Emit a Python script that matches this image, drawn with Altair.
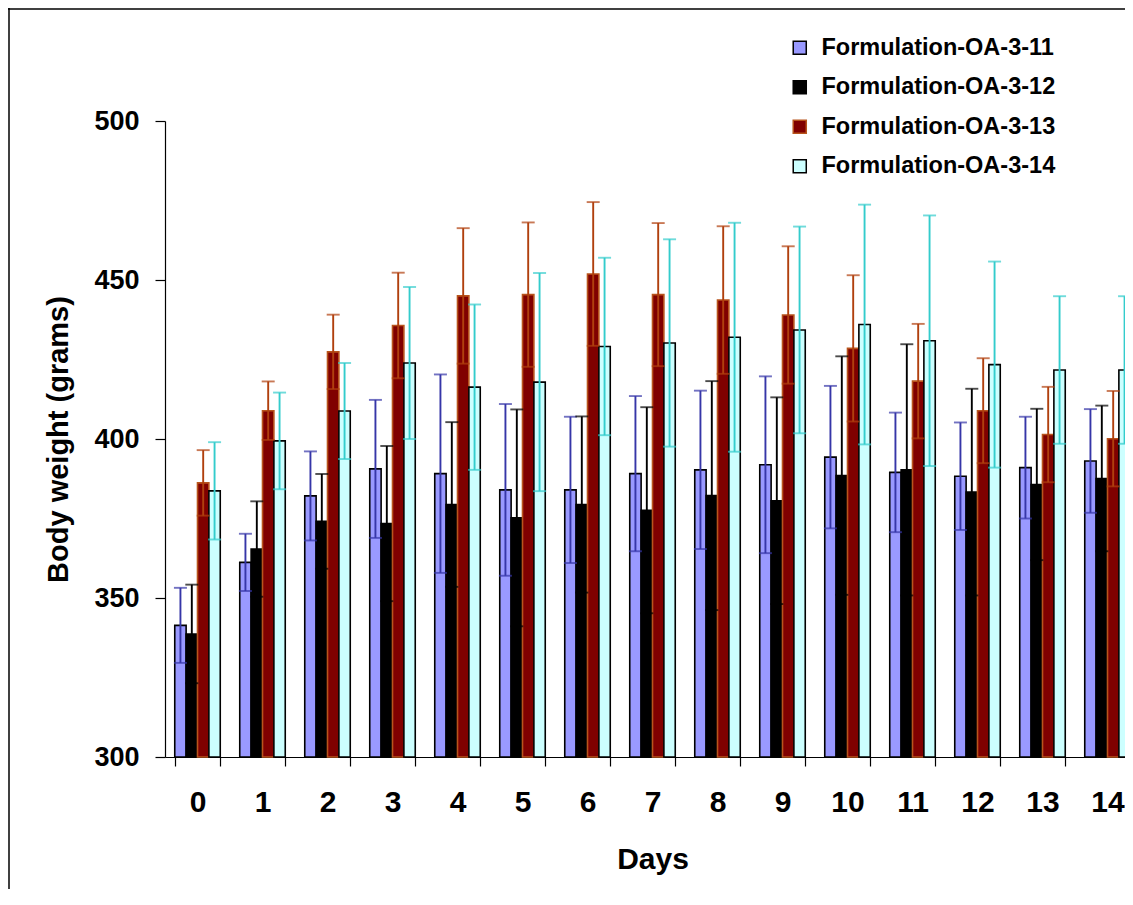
import altair as alt
import pandas as pd

days = list(range(15))
series_names = ["Formulation-OA-3-11", "Formulation-OA-3-12", "Formulation-OA-3-13", "Formulation-OA-3-14"]

oa11 = [341.4, 361.2, 382.1, 390.6, 389.1, 384.0, 384.0, 389.1, 390.3, 391.9, 394.3, 389.5, 388.3, 391.0, 393.1]
oa11_sd = [11.8, 9.0, 14.0, 21.7, 31.2, 27.0, 23.0, 24.4, 24.9, 27.8, 22.4, 18.8, 16.9, 16.0, 16.3]
oa12 = [338.7, 365.4, 374.1, 373.4, 379.4, 375.2, 379.4, 377.6, 382.2, 380.6, 388.5, 390.3, 383.3, 385.7, 387.6]
oa12_sd = [15.5, 15.0, 14.9, 24.4, 25.9, 34.1, 27.7, 32.4, 36.0, 32.5, 37.5, 39.5, 32.5, 23.8, 22.9]
oa13 = [386.2, 408.9, 427.4, 435.7, 445.0, 445.4, 451.9, 445.4, 443.7, 439.0, 428.5, 418.2, 408.9, 401.4, 400.1]
oa13_sd = [10.3, 9.2, 11.7, 16.6, 21.3, 22.7, 22.6, 22.5, 23.2, 21.6, 23.0, 18.0, 16.5, 15.0, 15.0]
oa14 = [383.7, 399.4, 408.8, 423.9, 416.3, 417.9, 429.1, 430.2, 432.0, 434.3, 436.0, 430.9, 423.4, 421.7, 421.7]
oa14_sd = [15.3, 15.2, 15.1, 23.9, 26.0, 34.3, 27.9, 32.6, 36.0, 32.5, 37.7, 39.4, 32.4, 23.2, 23.2]

fill_colors = ["#9999FF", "#000000", "#800000", "#CCFFFF"]
stroke_colors = ["#000000", "#000000", "#B8541C", "#000000"]
err_colors = ["#3636A8", "#000000", "#B0400E", "#33CCCC"]

rows = []
for name, means, sds in zip(series_names, [oa11, oa12, oa13, oa14], [oa11_sd, oa12_sd, oa13_sd, oa14_sd]):
    for d, m, s in zip(days, means, sds):
        rows.append({"Day": d, "Series": name, "Mean": m, "Lo": m - s, "Hi": m + s})
df = pd.DataFrame(rows)

FONT = "Liberation Sans"

x_enc = alt.X("Day:O", title="Days",
              scale=alt.Scale(paddingInner=0.3, paddingOuter=0.15, range=[0, 975]),
              axis=alt.Axis(labelAngle=0, tickBand="extent", tickSize=9, labelPadding=21,
                            labelFontSize=30, labelFont=FONT, labelFontWeight="bold", labelColor="black",
                            titleFontSize=30, titleFont=FONT, titleFontWeight="bold", titleColor="black",
                            titlePadding=27, domainColor="black", tickColor="black",
                            domainWidth=1.2, tickWidth=1.2))
xoff = alt.XOffset("Series:N", sort=series_names, scale=alt.Scale(paddingInner=0, paddingOuter=0))
y_scale = alt.Scale(domain=[300, 500], nice=False, zero=False)
y_axis = alt.Axis(values=[300, 350, 400, 450, 500], tickSize=10, labelPadding=16,
                  labelFontSize=27, labelFont=FONT, labelFontWeight="bold", labelColor="black",
                  title="Body weight (grams)", titleFontSize=29, titleFont=FONT,
                  titleFontWeight="bold", titleColor="black", titlePadding=20,
                  domainColor="black", tickColor="black", domainWidth=1.2, tickWidth=1.2, grid=False)

base = alt.Chart(df)

legend = alt.Legend(orient="none", legendX=623, legendY=-85, title=None,
                    labelFontSize=23.5, labelFont=FONT, labelFontWeight="bold", labelColor="black",
                    symbolType="square", symbolSize=170, symbolStrokeWidth=1.5, rowPadding=14.5,
                    labelOffset=10, labelLimit=400)

bars = base.mark_bar(strokeWidth=1.6).encode(
    x=x_enc,
    xOffset=xoff,
    y=alt.Y("Mean:Q", scale=y_scale, axis=y_axis),
    y2=alt.datum(300),
    fill=alt.Fill("Series:N", scale=alt.Scale(domain=series_names, range=fill_colors), legend=legend),
    stroke=alt.Stroke("Series:N", scale=alt.Scale(domain=series_names, range=stroke_colors), legend=legend),
)

err_layers = []
for name, col in zip(series_names, err_colors):
    sub = base.transform_filter(alt.datum.Series == name)
    err_layers.append(sub.mark_rule(strokeWidth=1.9, color=col).encode(
        x="Day:O", xOffset=xoff, y=alt.Y("Lo:Q", scale=y_scale), y2="Hi:Q"))
    err_layers.append(sub.mark_tick(size=13, thickness=1.9, color=col).encode(
        x="Day:O", xOffset=xoff, y=alt.Y("Hi:Q", scale=y_scale)))
    err_layers.append(sub.mark_tick(size=13, thickness=1.9, color=col).encode(
        x="Day:O", xOffset=xoff, y=alt.Y("Lo:Q", scale=y_scale)))

frame_df = pd.DataFrame({"k": [0]})
frame_left = alt.Chart(frame_df).mark_rule(color="black", strokeWidth=1.5).encode(
    x=alt.value(-156), y=alt.value(-114), y2=alt.value(800))
frame_top = alt.Chart(frame_df).mark_rule(color="black", strokeWidth=1.5).encode(
    x=alt.value(-157), x2=alt.value(975), y=alt.value(-112))

chart = alt.layer(bars, *err_layers, frame_left, frame_top).properties(
    width=960, height=636,
    autosize=alt.AutoSizeParams(type="none"),
    padding={"left": 157, "top": 113, "right": 0, "bottom": 132},
    background="white",
).configure_view(stroke=None)

chart.save("out.html", embed_options={"renderer": "svg", "actions": False})
